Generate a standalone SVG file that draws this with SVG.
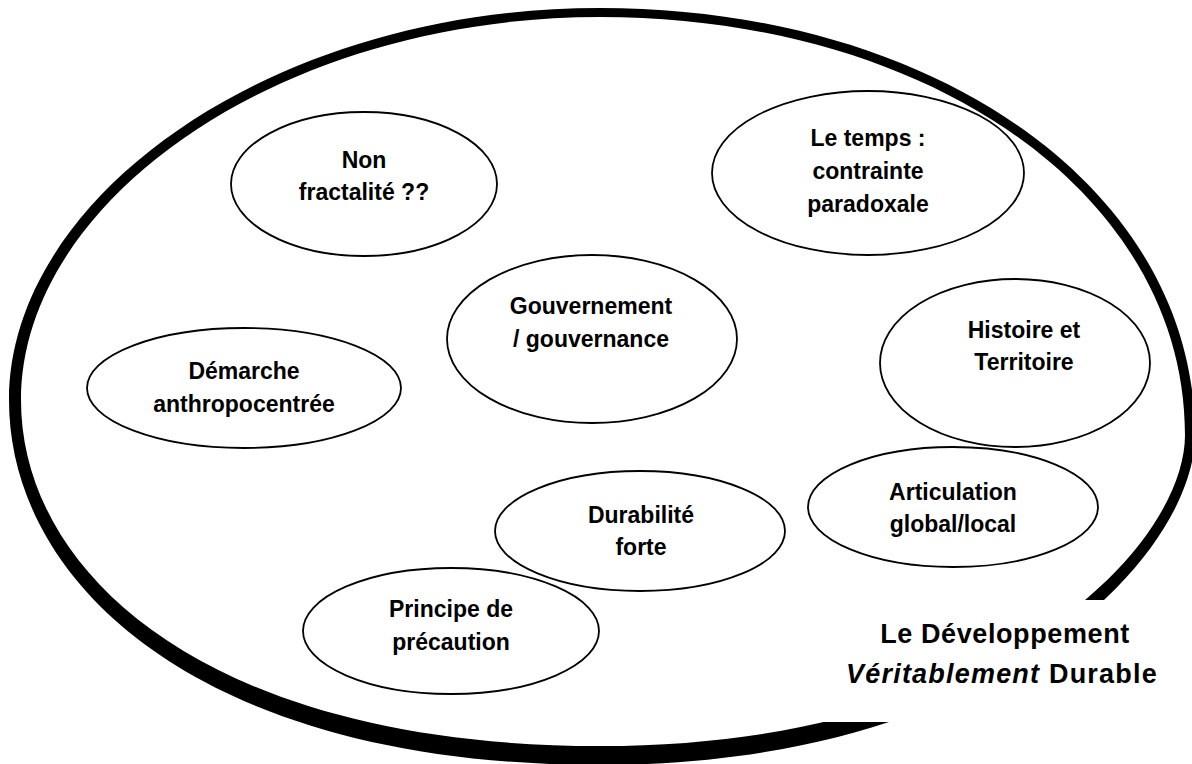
<svg xmlns="http://www.w3.org/2000/svg" width="1192" height="764" viewBox="0 0 1192 764">
<style>
.node ellipse{fill:none;stroke:#000;stroke-width:1.8}
text{font-family:"Liberation Sans",Arial,sans-serif;font-weight:bold;font-size:23px;fill:#000;text-anchor:middle}
.big{font-size:27px}
</style>
<rect width="1192" height="764" fill="#fff"/>
<g id="frame">
<path fill="#000" fill-rule="evenodd" d="M600,8 C936,8 1195,190 1195,435 C1195,552 1005,765 600,765 C202,765 9,585 9,400 C9,196 273,8 600,8 Z M600,17 C930,17 1185,195 1185,435 C1185,545 1000,746 600,746 C210,746 21,575 21,400 C21,200 280,17 600,17 Z"/>
<rect x="823" y="600" width="369" height="122" fill="#fff"/>
</g>
<g id="connectors"/>
<g id="n-fractalite" class="node"><ellipse cx="364" cy="184" rx="133" ry="72"/><text x="364" y="168">Non</text><text x="364" y="200">fractalité ??</text></g>
<g id="n-temps" class="node"><ellipse cx="868" cy="173" rx="156" ry="82"/><text x="868" y="146">Le temps :</text><text x="868" y="179">contrainte</text><text x="868" y="212">paradoxale</text></g>
<g id="n-gouvernement" class="node"><ellipse cx="592" cy="339" rx="145" ry="84"/><text x="591" y="314">Gouvernement</text><text x="591" y="347">/ gouvernance</text></g>
<g id="n-histoire" class="node"><ellipse cx="1015" cy="363" rx="135" ry="84"/><text x="1024" y="338">Histoire et</text><text x="1024" y="370">Territoire</text></g>
<g id="n-demarche" class="node"><ellipse cx="244" cy="388" rx="157" ry="60"/><text x="244" y="379">Démarche</text><text x="244" y="412">anthropocentrée</text></g>
<g id="n-articulation" class="node"><ellipse cx="953" cy="507" rx="145" ry="60"/><text x="953" y="500">Articulation</text><text x="953" y="532">global/local</text></g>
<g id="n-durabilite" class="node"><ellipse cx="640" cy="531" rx="145" ry="60"/><text x="641" y="523">Durabilité</text><text x="641" y="555">forte</text></g>
<g id="n-principe" class="node"><ellipse cx="451" cy="631" rx="148" ry="63"/><text x="451" y="617">Principe de</text><text x="451" y="650">précaution</text></g>
<g id="label"><text class="big" x="1005" y="643" letter-spacing="0.6">Le Développement</text><text class="big" x="1002" y="683" letter-spacing="1.2"><tspan font-style="italic">Véritablement</tspan> Durable</text></g>
</svg>
